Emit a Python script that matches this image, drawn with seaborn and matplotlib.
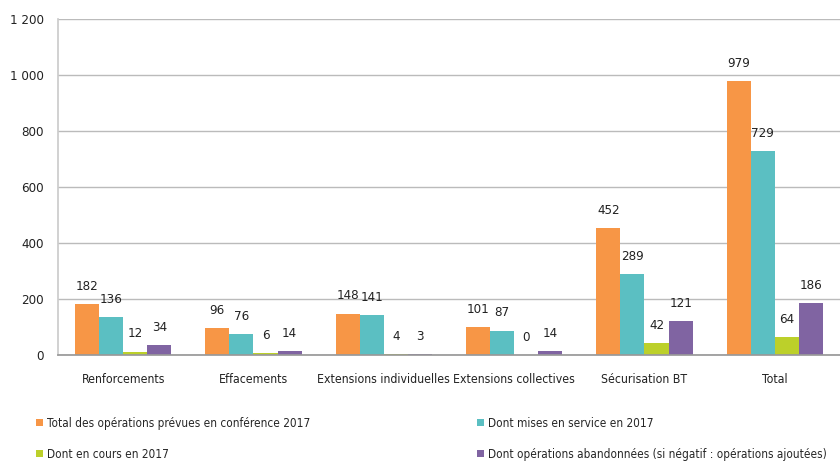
import matplotlib
matplotlib.use("Agg")
import matplotlib.pyplot as plt
import matplotlib.ticker as mticker
import seaborn as sns
import pandas as pd

categories = ["Renforcements", "Effacements", "Extensions individuelles",
              "Extensions collectives", "Sécurisation BT", "Total"]
series_names = ["Total des opérations prévues en conférence 2017",
                "Dont mises en service en 2017",
                "Dont en cours en 2017",
                "Dont opérations abandonnées (si négatif : opérations ajoutées)"]
total_prevues = [182, 96, 148, 101, 452, 979]
mises_en_service = [136, 76, 141, 87, 289, 729]
en_cours = [12, 6, 4, 0, 42, 64]
abandonnees = [34, 14, 3, 14, 121, 186]
colors = ["#F79646", "#5BBFC2", "#BCD02A", "#8064A2"]

values = [total_prevues, mises_en_service, en_cours, abandonnees]
rows = []
for s, vals in zip(series_names, values):
    for c, v in zip(categories, vals):
        rows.append({"cat": c, "serie": s, "val": v})
df = pd.DataFrame(rows)

sns.set_theme(style="white")
plt.rcParams['font.family'] = ['DejaVu Sans']
plt.rcParams['font.stretch'] = 'condensed'

fig = plt.figure(figsize=(8.4, 4.61), dpi=100)
ax = fig.add_axes([0.069, 0.23, 0.931, 0.729])
sns.barplot(data=df, x="cat", y="val", hue="serie", hue_order=series_names,
            order=categories, palette=colors, width=0.74, ax=ax,
            saturation=1, legend=True, linewidth=0)

for cont in ax.containers:
    ax.bar_label(cont, labels=[f"{int(v)}" for v in cont.datavalues],
                 padding=8, fontsize=9.5, color="#222222", fontstretch='condensed')

ax.set_ylim(0, 1200)
ax.set_xlim(-0.5, 5.5)
ax.yaxis.set_major_locator(mticker.MultipleLocator(200))
ax.yaxis.set_major_formatter(mticker.FuncFormatter(
    lambda v, p: f"{int(v):,}".replace(",", " ")))
ax.grid(axis="y", color="#BBBBBB", linewidth=1)
ax.set_axisbelow(True)
ax.set_xlabel("")
ax.set_ylabel("")
for sp in ["top", "right"]:
    ax.spines[sp].set_visible(False)
ax.spines["left"].set_color("#CCCCCC")
ax.spines["bottom"].set_color("#999999")
ax.tick_params(axis="y", length=0, labelsize=9.5, colors="#222222", pad=10)
ax.tick_params(axis="x", length=0, labelsize=8.8, colors="#222222", pad=13)
ax.set_xticks(range(len(categories)))
ax.set_xticks([i - 0.5 for i in range(len(categories) + 1)], minor=True)
ax.tick_params(axis="x", which="minor", length=5, color="#999999", direction="out")
for t in ax.get_xticklabels() + ax.get_yticklabels():
    t.set_fontstretch('condensed')

handles, labels = ax.get_legend_handles_labels()
ax.get_legend().remove()
order = [0, 2, 1, 3]
fig.legend([handles[i] for i in order], [labels[i] for i in order],
           loc="lower left", bbox_to_anchor=(0.03, -0.022),
           ncol=2, frameon=False, handlelength=0.6,
           handleheight=0.6, handletextpad=0.35, columnspacing=14.1,
           labelspacing=1.5, prop={'size': 8.5, 'stretch': 'condensed'})

fig.savefig("out.png", dpi=100)
